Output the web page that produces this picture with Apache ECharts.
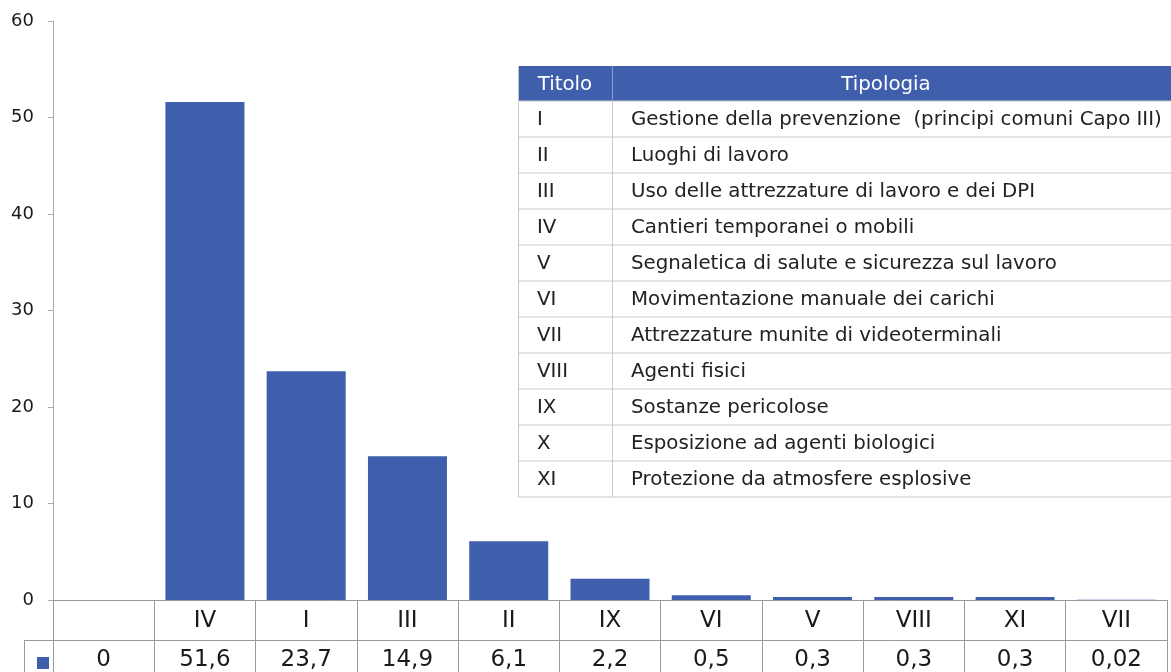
<!DOCTYPE html>
<html>
<head>
<meta charset="UTF-8">
<title>Titoli</title>
<script src="https://cdn.jsdelivr.net/npm/echarts@6/dist/echarts.min.js"></script>
<style>
  html, body { margin: 0; padding: 0; background: #fff; }
  #main { width: 1171px; height: 672px; }
</style>
</head>
<body>
<div id="main"></div>
<script>
// dati del grafico
var categorie = ['', 'IV', 'I', 'III', 'II', 'IX', 'VI', 'V', 'VIII', 'XI', 'VII'];
var valori = [0, 51.6, 23.7, 14.9, 6.1, 2.2, 0.5, 0.3, 0.3, 0.3, 0.02];
var yTicks = [0, 10, 20, 30, 40, 50, 60];

// tabella legenda titoli
var titoli = ['I', 'II', 'III', 'IV', 'V', 'VI', 'VII', 'VIII', 'IX', 'X', 'XI'];
var tipologie = [
    'Gestione della prevenzione  (principi comuni Capo III)',
    'Luoghi di lavoro',
    'Uso delle attrezzature di lavoro e dei DPI',
    'Cantieri temporanei o mobili',
    'Segnaletica di salute e sicurezza sul lavoro',
    'Movimentazione manuale dei carichi',
    'Attrezzature munite di videoterminali',
    'Agenti fisici',
    'Sostanze pericolose',
    'Esposizione ad agenti biologici',
    'Protezione da atmosfere esplosive'
];

var BLU = '#3f5fad';
var fontChart = 'DejaVu Sans';
var fontTab = '19.8px "DejaVu Sans"';

function virgola(v) {
    return String(v).replace('.', ',');
}

var myChart = echarts.init(document.getElementById('main'));

// tabella sovrapposta (Titolo / Tipologia)
var tX = 518, tY = 66, colX = 612, headH = 35, rowH = 36, tW = 700;
var tab = [];
tab.push({ type: 'rect', shape: { x: tX, y: tY, width: tW, height: headH }, style: { fill: BLU } });
tab.push({ type: 'rect', shape: { x: tX, y: tY + headH, width: tW, height: rowH * titoli.length }, style: { fill: '#fff' } });
tab.push({ type: 'text', x: (tX + colX) / 2, y: tY + headH / 2 + 1,
    style: { text: 'Titolo', fill: '#fff', font: fontTab, align: 'center', verticalAlign: 'middle' } });
tab.push({ type: 'text', x: 886, y: tY + headH / 2 + 1,
    style: { text: 'Tipologia', fill: '#fff', font: fontTab, align: 'center', verticalAlign: 'middle' } });
titoli.forEach(function (t, i) {
    var yc = tY + headH + rowH * i + rowH / 2 + 1;
    tab.push({ type: 'text', x: 537, y: yc,
        style: { text: t, fill: '#222', font: fontTab, verticalAlign: 'middle' } });
    tab.push({ type: 'text', x: 631, y: yc,
        style: { text: tipologie[i], fill: '#222', font: fontTab, verticalAlign: 'middle' } });
    tab.push({ type: 'line', shape: { x1: tX, y1: tY + headH + rowH * (i + 1), x2: tX + tW, y2: tY + headH + rowH * (i + 1) },
        style: { stroke: '#c8c8c8', lineWidth: 1 } });
});
tab.push({ type: 'line', shape: { x1: tX, y1: tY + headH, x2: tX + tW, y2: tY + headH }, style: { stroke: '#c8c8c8', lineWidth: 1 } });
tab.push({ type: 'line', shape: { x1: tX + 0.5, y1: tY, x2: tX + 0.5, y2: tY + headH + rowH * titoli.length }, style: { stroke: '#c8c8c8', lineWidth: 1 } });
tab.push({ type: 'line', shape: { x1: colX + 0.5, y1: tY + headH, x2: colX + 0.5, y2: tY + headH + rowH * titoli.length }, style: { stroke: '#c8c8c8', lineWidth: 1 } });
tab.push({ type: 'line', shape: { x1: colX + 0.5, y1: tY, x2: colX + 0.5, y2: tY + headH }, style: { stroke: '#8a9fd0', lineWidth: 1 } });

// bordi della tabella dati a sinistra
tab.push({ type: 'line', shape: { x1: 24, y1: 640.5, x2: 53, y2: 640.5 }, style: { stroke: '#999', lineWidth: 1 } });
tab.push({ type: 'line', shape: { x1: 24.5, y1: 640, x2: 24.5, y2: 672 }, style: { stroke: '#999', lineWidth: 1 } });

myChart.setOption({
    animation: false,
    grid: { left: 53, right: 4, top: 21, bottom: 72, containLabel: false },
    legend: {
        left: 32, top: 652,
        itemWidth: 12, itemHeight: 12,
        icon: 'rect',
        formatter: function () { return ''; },
        data: ['Serie 1']
    },
    xAxis: [
        {
            type: 'category',
            data: categorie,
            position: 'bottom',
            axisLine: { lineStyle: { color: '#999' } },
            axisTick: { show: true, length: 72, lineStyle: { color: '#999' } },
            axisLabel: { margin: 10, fontSize: 23, fontFamily: fontChart, color: '#1a1a1a' }
        },
        {
            type: 'category',
            data: valori.map(virgola),
            position: 'bottom',
            offset: 40,
            axisLine: { lineStyle: { color: '#999' } },
            axisTick: { show: false },
            axisLabel: { margin: 9, fontSize: 23, fontFamily: fontChart, color: '#1a1a1a' }
        }
    ],
    yAxis: {
        type: 'value',
        min: yTicks[0],
        max: yTicks[yTicks.length - 1],
        interval: 10,
        axisLine: { show: true, lineStyle: { color: '#aaa' } },
        axisTick: { show: true, length: 5, lineStyle: { color: '#aaa' } },
        splitLine: { show: false },
        axisLabel: { margin: 19, fontSize: 18, fontFamily: fontChart, color: '#1a1a1a', padding: [3, 0, 0, 0] }
    },
    series: [{
        name: 'Serie 1',
        type: 'bar',
        xAxisIndex: 0,
        data: valori,
        barCategoryGap: '22%',
        itemStyle: { color: BLU }
    }],
    graphic: tab
});
</script>
</body>
</html>
